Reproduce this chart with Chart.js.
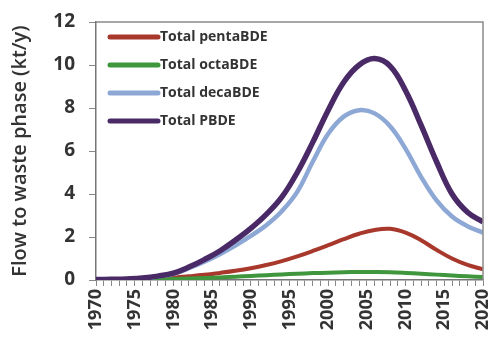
<!doctype html>
<html lang="en">
  <head>
    <meta charset="utf-8">
    <title>PBDE flow to waste phase</title>
    <script src="https://cdn.jsdelivr.net/npm/chart.js"></script>
    <style>
      html, body { margin: 0; padding: 0; background: #fff; }
      #wrap { width: 489px; height: 339px; }
    </style>
  </head>
  <body>
    <div id="wrap"><canvas id="flowChart" width="489" height="339"></canvas></div>
    <script>
      // values (kt/y), every second year
      const years = [1970, 1972, 1974, 1976, 1978, 1980, 1982, 1984, 1986, 1988, 1990, 1992, 1994, 1996, 1998, 2000, 2002, 2004, 2006, 2008, 2010, 2012, 2014, 2016, 2018, 2020];
      const pentaBDE = [0, 0.01, 0.02, 0.04, 0.07, 0.11, 0.17, 0.24, 0.33, 0.43, 0.55, 0.7, 0.88, 1.1, 1.35, 1.62, 1.9, 2.15, 2.33, 2.38, 2.2, 1.85, 1.4, 1.0, 0.7, 0.5];
      const octaBDE = [0, 0, 0.01, 0.02, 0.03, 0.05, 0.07, 0.09, 0.12, 0.15, 0.19, 0.22, 0.26, 0.29, 0.32, 0.34, 0.36, 0.37, 0.37, 0.36, 0.33, 0.29, 0.25, 0.21, 0.17, 0.14];
      const decaBDE = [0.01, 0.02, 0.04, 0.08, 0.16, 0.29, 0.55, 0.85, 1.2, 1.6, 2.05, 2.55, 3.2, 4.1, 5.5, 6.8, 7.6, 7.9, 7.75, 7.15, 6.1, 4.8, 3.7, 2.95, 2.5, 2.2];
      const totalPBDE = [0.02, 0.03, 0.05, 0.09, 0.18, 0.32, 0.6, 0.95, 1.35, 1.85, 2.4, 3.05, 3.85, 5.0, 6.4, 7.9, 9.2, 10.0, 10.3, 9.95, 8.8, 7.2, 5.5, 4.0, 3.15, 2.7];
      const yTicks = [0, 2, 4, 6, 8, 10, 12];

      const toPoints = vals => vals.map((v, i) => ({ x: years[i], y: v }));
      const font = '"Open Sans", "Liberation Sans", sans-serif';

      function series(label, vals, color, width, order) {
        return {
          label: label,
          data: toPoints(vals),
          borderColor: color,
          backgroundColor: color,
          borderWidth: width,
          pointRadius: 0,
          fill: false,
          tension: 0.4,
          order: order
        };
      }

      // top/right frame of the plot plus the legend in the top-left corner
      const framePlugin = {
        id: 'frame',
        afterDraw(chart) {
          const a = chart.chartArea;
          const c = chart.ctx;
          c.save();
          c.strokeStyle = '#8a8a8a';
          c.lineWidth = 1.5;
          c.beginPath();
          c.moveTo(a.left, a.top);
          c.lineTo(a.right, a.top);
          c.lineTo(a.right, a.bottom);
          c.stroke();

          c.font = 'bold 14px ' + font;
          c.textBaseline = 'middle';
          c.lineCap = 'round';
          chart.data.datasets.forEach((ds, i) => {
            const y = a.top + 15 + i * 28;
            c.strokeStyle = ds.borderColor;
            c.lineWidth = 5;
            c.beginPath();
            c.moveTo(a.left + 14, y);
            c.lineTo(a.left + 62, y);
            c.stroke();
            c.fillStyle = '#333';
            c.fillText(ds.label, a.left + 64, y);
          });
          c.restore();
        }
      };

      window.onload = function() {
        const ctx = document.getElementById('flowChart').getContext('2d');
        new Chart(ctx, {
          type: 'line',
          data: {
            datasets: [
              series('Total pentaBDE', pentaBDE, '#a8382c', 4, 3),
              series('Total octaBDE', octaBDE, '#3f963c', 4, 2),
              series('Total decaBDE', decaBDE, '#8ea8d6', 4.5, 1),
              series('Total PBDE', totalPBDE, '#4a2a66', 5.5, 0)
            ]
          },
          options: {
            responsive: false,
            animation: false,
            layout: { padding: { top: 22, right: 6, left: 0, bottom: 0 } },
            plugins: {
              tooltip: { enabled: false },
              legend: { display: false }
            },
            scales: {
              x: {
                type: 'linear',
                min: 1970,
                max: 2020,
                afterFit: s => { s.height = 59; s.paddingRight = 0; s.paddingLeft = 0; },
                border: { color: '#777', width: 1.5 },
                grid: { drawOnChartArea: false, tickLength: 6, color: '#888' },
                ticks: {
                  stepSize: 1,
                  autoSkip: false,
                  minRotation: 90,
                  maxRotation: 90,
                  padding: 3,
                  color: '#333',
                  font: { family: font, size: 18, weight: 'bold' },
                  callback: v => (v % 5 === 0 ? String(v) : '')
                }
              },
              y: {
                min: 0,
                max: 12,
                afterFit: s => { s.width = 96; s.paddingTop = 0; s.paddingBottom = 0; },
                afterBuildTicks: s => { s.ticks = yTicks.map(v => ({ value: v })); },
                border: { color: '#777', width: 1.5 },
                grid: { drawOnChartArea: false, tickLength: 7, color: '#888' },
                ticks: {
                  padding: 14,
                  color: '#333',
                  font: { family: font, size: 19, weight: 'bold' }
                },
                title: {
                  display: true,
                  text: 'Flow to waste phase (kt/y)',
                  color: '#333',
                  padding: { top: 8, bottom: 0 },
                  font: { family: font, size: 20, weight: '600' }
                }
              }
            }
          },
          plugins: [framePlugin]
        });
      };
    </script>
  </body>
</html>
